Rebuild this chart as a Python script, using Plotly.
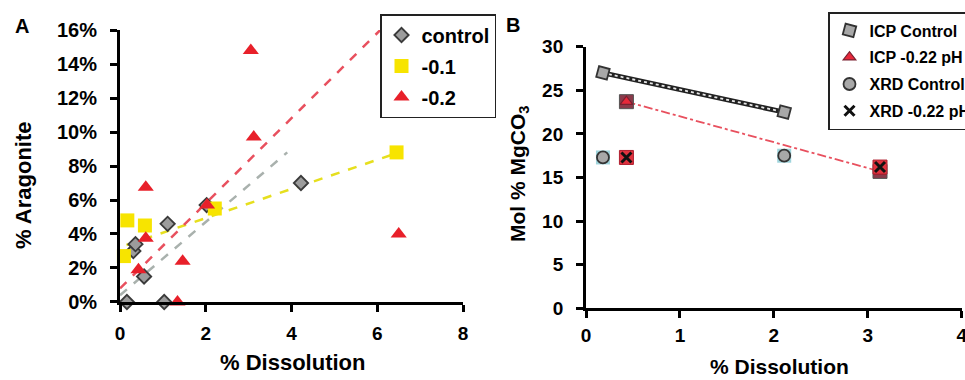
import plotly.graph_objects as go

# ---------------- Panel A data ----------------
ctrl_x = [0.16, 1.03, 0.31, 0.36, 0.56, 1.11, 2.02, 4.22]
ctrl_y = [0.0, 0.0, 3.0, 3.4, 1.5, 4.6, 5.7, 7.0]
m01_x = [0.09, 0.17, 0.58, 2.21, 6.45]
m01_y = [2.7, 4.8, 4.5, 5.5, 8.8]
m02_x = [3.05, 3.12, 0.60, 0.60, 0.43, 1.46, 1.34, 6.50, 2.03]
m02_y = [14.8, 9.7, 6.75, 3.75, 1.9, 2.4, 0.0, 4.0, 5.7]

ctrl_trend_x = [0.0, 3.9]
ctrl_trend_y = [0.4, 8.8]
m01_trend_x = [0.15, 6.45]
m01_trend_y = [3.35, 8.75]
m02_trend_x = [0.0, 6.15]
m02_trend_y = [0.8, 16.2]

a_xticks = [0, 2, 4, 6, 8]
a_yticks = [0, 2, 4, 6, 8, 10, 12, 14, 16]

# ---------------- Panel B data ----------------
icp_ctrl_x = [0.18, 2.11]
icp_ctrl_y = [27.0, 22.5]
icp_acid_x = [0.43, 3.13]
icp_acid_y = [23.7, 15.7]
xrd_ctrl_x = [0.18, 2.11]
xrd_ctrl_y = [17.3, 17.5]
xrd_acid_x = [0.43, 3.13]
xrd_acid_y = [17.3, 16.2]

b_xticks = [0, 1, 2, 3, 4]
b_yticks = [0, 5, 10, 15, 20, 25, 30]

FONT = "Liberation Sans, Arial, sans-serif"

fig = go.Figure()

# Panel A trend lines
fig.add_trace(go.Scatter(x=ctrl_trend_x, y=ctrl_trend_y, mode="lines", xaxis="x", yaxis="y",
                         line=dict(color="#a9b1ad", width=2.5, dash="dash"), showlegend=False))
fig.add_trace(go.Scatter(x=m01_trend_x, y=m01_trend_y, mode="lines", xaxis="x", yaxis="y",
                         line=dict(color="#e6df1e", width=2.5, dash="dash"), showlegend=False))
fig.add_trace(go.Scatter(x=m02_trend_x, y=m02_trend_y, mode="lines", xaxis="x", yaxis="y",
                         line=dict(color="#e8505e", width=2.5, dash="dash"), showlegend=False))

# Panel A markers
fig.add_trace(go.Scatter(x=ctrl_x, y=ctrl_y, mode="markers", name="<b>control</b>", xaxis="x", yaxis="y",
                         cliponaxis=False, legend="legend", legendgroup="a1",
                         marker=dict(symbol="diamond", size=11, color="#9c9c9c",
                                     line=dict(color="#3a3a3a", width=1.8))))
fig.add_trace(go.Scatter(x=m01_x, y=m01_y, mode="markers", name="<b>-0.1</b>", xaxis="x", yaxis="y",
                         cliponaxis=False, legend="legend", legendgroup="a2",
                         marker=dict(symbol="square", size=14, color="#f7e400",
                                     line=dict(width=0))))
fig.add_trace(go.Scatter(x=m02_x, y=m02_y, mode="markers", name="<b>-0.2</b>", xaxis="x", yaxis="y",
                         cliponaxis=False, legend="legend", legendgroup="a3",
                         marker=dict(symbol="triangle-up", size=14, color="#e8202a",
                                     line=dict(width=0))))

# Panel B lines
fig.add_trace(go.Scatter(x=icp_ctrl_x, y=icp_ctrl_y, mode="lines", xaxis="x2", yaxis="y2",
                         line=dict(color="#222222", width=5), showlegend=False))
fig.add_trace(go.Scatter(x=icp_ctrl_x, y=icp_ctrl_y, mode="lines", xaxis="x2", yaxis="y2",
                         line=dict(color="#e8e8e8", width=1.8, dash="dot"), showlegend=False))
fig.add_trace(go.Scatter(x=icp_acid_x, y=icp_acid_y, mode="lines", xaxis="x2", yaxis="y2",
                         line=dict(color="#e8505e", width=1.8, dash="dashdot"), showlegend=False))

# Panel B markers
fig.add_trace(go.Scatter(x=icp_ctrl_x, y=icp_ctrl_y, mode="markers", name="<b>ICP Control</b>",
                         xaxis="x2", yaxis="y2", cliponaxis=False, legend="legend2", legendgroup="b1",
                         marker=dict(symbol="square", size=11, color="#a8a8a8", angle=15,
                                     line=dict(color="#333333", width=1.8))))
fig.add_trace(go.Scatter(x=icp_acid_x, y=icp_acid_y, mode="markers", showlegend=False,
                         xaxis="x2", yaxis="y2", cliponaxis=False,
                         marker=dict(symbol="square", size=14, color="#8a3a4a",
                                     line=dict(color="#555555", width=1))))
fig.add_trace(go.Scatter(x=icp_acid_x, y=icp_acid_y, mode="markers", name="<b>ICP -0.22 pH</b>",
                         xaxis="x2", yaxis="y2", cliponaxis=False, legend="legend2", legendgroup="b2",
                         marker=dict(symbol="triangle-up", size=11, color="#e8283a",
                                     line=dict(color="#7a2030", width=1.2))))
fig.add_trace(go.Scatter(x=xrd_ctrl_x, y=xrd_ctrl_y, mode="markers", showlegend=False,
                         xaxis="x2", yaxis="y2", cliponaxis=False,
                         marker=dict(symbol="square", size=14, color="#9fd4dc",
                                     line=dict(width=0))))
fig.add_trace(go.Scatter(x=xrd_ctrl_x, y=xrd_ctrl_y, mode="markers", name="<b>XRD Control</b>",
                         xaxis="x2", yaxis="y2", cliponaxis=False, legend="legend2", legendgroup="b3",
                         marker=dict(symbol="circle", size=12, color="#a8a8a8",
                                     line=dict(color="#333333", width=1.8))))
fig.add_trace(go.Scatter(x=xrd_acid_x, y=xrd_acid_y, mode="markers", showlegend=False,
                         xaxis="x2", yaxis="y2", cliponaxis=False,
                         marker=dict(symbol="square", size=14, color="#e0323e",
                                     line=dict(color="#b02030", width=1))))
fig.add_trace(go.Scatter(x=xrd_acid_x, y=xrd_acid_y, mode="markers", name="<b>XRD -0.22 pH</b>",
                         xaxis="x2", yaxis="y2", cliponaxis=False, legend="legend2", legendgroup="b4",
                         marker=dict(symbol="x-thin", size=10, color="#111111",
                                     line=dict(color="#111111", width=3))))

axis_common = dict(showgrid=False, zeroline=False, showline=True, linecolor="black",
                   linewidth=3, ticks="outside", ticklen=7, tickwidth=2.5, tickcolor="black",
                   automargin=False, ticklabeloverflow="allow")

fig.update_layout(
    width=965, height=380,
    margin=dict(l=0, r=0, t=0, b=0, autoexpand=False),
    paper_bgcolor="white", plot_bgcolor="white",
    font=dict(family=FONT, color="black"),
    xaxis=dict(domain=[0.1244, 0.4798], range=[0, 8], tickvals=a_xticks,
               ticktext=[f"<b>{v}</b>" for v in a_xticks], anchor="y", ticklabelstandoff=5,
               tickfont=dict(family=FONT, size=19, color="black"), **axis_common),
    yaxis=dict(domain=[0.2053, 0.921], range=[0, 16], tickvals=a_yticks,
               ticktext=[f"<b>{v}%</b>" for v in a_yticks], anchor="x", ticklabelstandoff=9,
               tickfont=dict(family=FONT, size=20, color="black"), **axis_common),
    xaxis2=dict(domain=[0.6073, 0.9966], range=[0, 4], tickvals=b_xticks,
                ticktext=[f"<b>{v}</b>" for v in b_xticks], anchor="y2", ticklabelstandoff=1,
                tickfont=dict(family=FONT, size=19, color="black"), **axis_common),
    yaxis2=dict(domain=[0.1887, 0.877], range=[0, 30], tickvals=b_yticks,
                ticktext=[f"<b>{v}</b>" for v in b_yticks], anchor="x2", ticklabelstandoff=9,
                tickfont=dict(family=FONT, size=19, color="black"), **axis_common),
    legend=dict(x=380 / 965, y=1 - 14 / 380, xanchor="left", yanchor="top", bgcolor="white",
                bordercolor="#222222", borderwidth=1.5, tracegroupgap=2, itemwidth=30,
                font=dict(family=FONT, size=20, color="black")),
    legend2=dict(x=828 / 965, y=1 - 12 / 380, xanchor="left", yanchor="top", bgcolor="white",
                 bordercolor="#222222", borderwidth=1.5, tracegroupgap=3, itemwidth=30,
                 font=dict(family=FONT, size=16, color="black")),
)

# annotations given in pixel positions, converted to paper fractions
ann_specs = [
    ("<b>A</b>", 22, 26, 0, 20),
    ("<b>B</b>", 513, 25, 0, 20),
    ("<b>% Aragonite</b>", 23, 185, -90, 22),
    ("<b>% Dissolution</b>", 292, 362, 0, 22),
    ("<b>Mol % MgCO<sub>3</sub></b>", 519, 174, -90, 21),
    ("<b>% Dissolution</b>", 779, 366, 0, 21),
]
for text, px, py, ang, size in ann_specs:
    fig.add_annotation(text=text, x=px / 965, y=1 - py / 380, xref="paper", yref="paper",
                       xanchor="center", yanchor="middle", textangle=ang, showarrow=False,
                       font=dict(family=FONT, size=size, color="black"))

fig.write_html("out.html", config={"displayModeBar": False},
               post_script="document.body.style.margin='0';")
